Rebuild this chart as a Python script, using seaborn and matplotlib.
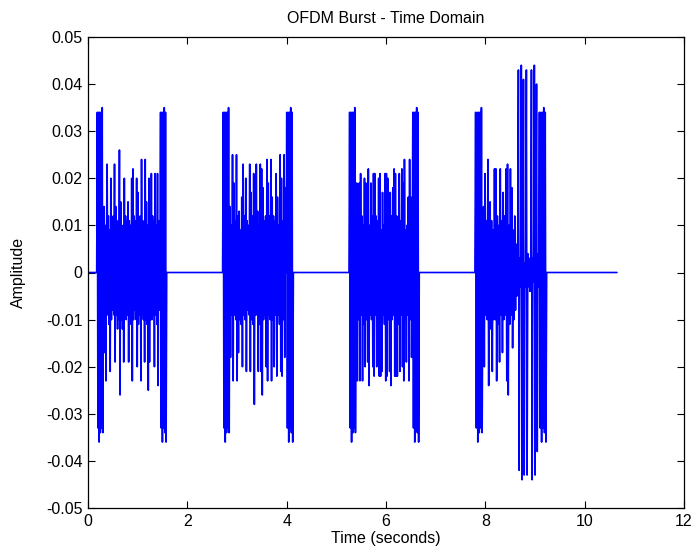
import numpy as np
import pandas as pd
import matplotlib
matplotlib.use("Agg")
import matplotlib.pyplot as plt
import seaborn as sns

# ---- data (amplitudes in units of 1e-3) ----
signal_start = 0.0
signal_end = 10.65

burst_starts = [0.175, 2.71, 5.255, 7.79]
burst_ends = [1.585, 4.135, 6.67, 9.235]

preamble = [0, 34, -33, 34, -36, 34, -34, 34, -33, 35, -34]
postamble = [34, -33, 34, -36, 34, -33, 35, -34, 34, -36, 0]

data1 = [0, 14, -17, 10, -23, 8, 23, -9, 12, -11, 9, -21, 20, -10, 11, -8, 12, -9, 23, -19,
         14, -9, 10, -12, 11, -10, 26, -26, 15, -10, 9, -12, 10, -19, 20, -8, 12, -10, 11, -9,
         15, -19, 11, -9, 10, -11, 20, -23, 22, -10, 12, -8, 11, -10, 20, -20, 17, -11, 10, -9,
         12, -23, 24, -9, 11, -10, 9, -19, 24, -10, 15, -11, 10, -25, 20, -19, 12, -10, 21, -10,
         12, -9, 11, -20, 21, -9, 10, -11, 21, -24, 11, -8, 0]

data2 = [14, -18, 10, -9, 25, -23, 19, -9, 11, -10, 25, -23, 12, -17, 13, -10, 9, -11, 16, -20,
         23, -9, 12, -10, 20, -21, 11, -8, 10, -9, 23, -21, 17, -10, 12, -11, 21, -28, 12, -9,
         23, -9, 13, -21, 10, -11, 23, -21, 22, -26, 18, -10, 11, -9, 12, -20, 24, -23, 19, -9,
         12, -10, 24, -23, 16, -10, 12, -20, 11, -9, 21, -22, 16, -9, 10, -11, 25, -21, 20, -22,
         11, -10, 25, -18, 18, 0]

data3 = [0, 19, -23, 11, -10, 19, -23, 21, -9, 12, -23, 10, -11, 20, -20, 19, -10, 11, -19,
         22, -24, 10, -9, 19, -10, 12, -20, 21, -22, 21, -9, 12, -20, 11, -10, 20, -22, 21, -22,
         9, -21, 17, -9, 10, -11, 21, -23, 21, -22, 20, -10, 11, -21, 17, -24, 12, -10, 18, -9,
         22, -22, 21, -22, 12, -22, 10, -11, 21, -21, 11, -9, 22, -20, 19, -23, 24, -10, 9, -19,
         10, -9, 16, -23, 24, -10, 16, -18, 0]

data4 = [0, 14, -20, 21, -9, 11, -10, 24, -24, 10, 15, -12, 11, -21, 9, -10, 22, -10, 22, -23,
         12, -11, 10, -19, 22, -9, 11, -17, 17, -10, 12, -9, 22, -23, 23, -26, 10, -11, 22, -9,
         18, -16, 9, -10, 12, -8, 6, -5, 4,
         43, -42, 3, -3, 44, -44, 3, 41, -43, 2, -3, 43, -43, 4, -3, 3, -4, 2, 43, -44, 3, -2,
         44, -43, 3, 40, -38, 4, -3]

bursts = [preamble + data1 + postamble,
          preamble + data2 + postamble,
          preamble + data3 + postamble,
          preamble + data4 + postamble]

y_ticks = [-0.05, -0.04, -0.03, -0.02, -0.01, 0, 0.01, 0.02, 0.03, 0.04, 0.05]
y_tick_labels = ["-0.05", "-0.04", "-0.03", "-0.02", "-0.01", "0",
                 "0.01", "0.02", "0.03", "0.04", "0.05"]
x_ticks = [0, 2, 4, 6, 8, 10, 12]
x_tick_labels = ["0", "2", "4", "6", "8", "10", "12"]

# ---- assemble the time series ----
times = [signal_start]
amps = [0.0]
for t0, t1, vals in zip(burst_starts, burst_ends, bursts):
    tt = np.linspace(t0, t1, len(vals))
    times.extend(tt.tolist())
    amps.extend((np.array(vals, dtype=float) / 1000.0).tolist())
times.append(signal_end)
amps.append(0.0)
df = pd.DataFrame({"Time": times, "Amplitude": amps})

# ---- style ----
sns.set_theme(style="white")
plt.rcParams["font.family"] = ["Liberation Sans Narrow", "Liberation Sans", "DejaVu Sans"]
plt.rcParams["text.color"] = "black"
plt.rcParams["axes.labelcolor"] = "black"
plt.rcParams["xtick.color"] = "black"
plt.rcParams["ytick.color"] = "black"

fig = plt.figure(figsize=(6.94, 5.58), dpi=100)
ax = fig.add_axes([88 / 694, 1 - 508 / 558, (684 - 88) / 694, (508 - 37) / 558])

sns.lineplot(data=df, x="Time", y="Amplitude", ax=ax, estimator=None, sort=False,
             color=(0, 0, 1), linewidth=1.2)

ax.set_xlim(0, 12)
ax.set_ylim(-0.05, 0.05)
ax.set_xticks(x_ticks)
ax.set_xticklabels(x_tick_labels)
ax.set_yticks(y_ticks)
ax.set_yticklabels(y_tick_labels)
ax.tick_params(direction="in", length=5, width=0.8, colors="black", labelsize=11.5,
               top=True, right=True, bottom=True, left=True, pad=4)
for s in ax.spines.values():
    s.set_color("black")
    s.set_linewidth(0.9)
    s.set_visible(True)

ax.set_title("OFDM Burst - Time Domain", fontsize=11.5, pad=10, color="black")
ax.set_xlabel("Time (seconds)", fontsize=11.5, labelpad=2)
ax.set_ylabel("Amplitude", fontsize=11.5, labelpad=14)

fig.savefig("out.png", dpi=100)
